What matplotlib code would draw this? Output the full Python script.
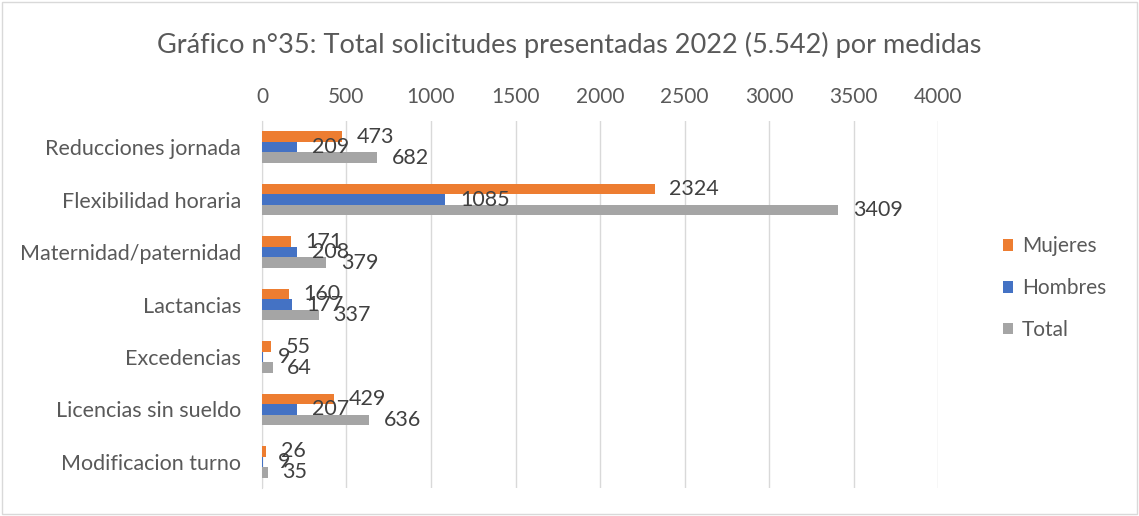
import matplotlib.pyplot as plt
import numpy as np

# datos
categorias = ['Reducciones jornada', 'Flexibilidad horaria', 'Maternidad/paternidad',
              'Lactancias', 'Excedencias', 'Licencias sin sueldo', 'Modificacion turno']
mujeres = [473, 2324, 171, 160, 55, 429, 26]
hombres = [209, 1085, 208, 177, 9, 207, 9]
total = [682, 3409, 379, 337, 64, 636, 35]
series = ['Mujeres', 'Hombres', 'Total']
colores = ['#ED7D31', '#4472C4', '#A5A5A5']
ticks_x = [0, 500, 1000, 1500, 2000, 2500, 3000, 3500, 4000]

plt.rcParams['font.family'] = ['Lato', 'DejaVu Sans']
gris_texto = '#595959'

fig = plt.figure(figsize=(11.39, 5.16), dpi=100)
ax = fig.add_axes([0.230, 0.054, 0.5936, 0.7115])

y = np.arange(len(categorias))
h = 0.2
for i, (valores, nombre, c) in enumerate(zip([mujeres, hombres, total], series, colores)):
    pos = y + (i - 1) * h
    ax.barh(pos, valores, height=h, color=c, label=nombre, zorder=3)
    for p, v in zip(pos, valores):
        ax.annotate(str(v), xy=(v, p), xytext=(10.5, 0), textcoords='offset points',
                    va='center', ha='left', fontsize=15.5, color='#404040', zorder=4)

ax.set_xlim(0, 4000)
ax.set_ylim(len(categorias) - 0.5, -0.5)
ax.set_yticks(y)
ax.set_yticklabels(categorias, fontsize=15.5, color=gris_texto)
ax.set_xticks(ticks_x)
ax.xaxis.tick_top()
ax.tick_params(axis='x', labelsize=15, labelcolor=gris_texto, length=0, pad=10)
ax.tick_params(axis='y', length=0, pad=15)
ax.grid(axis='x', color='#D9D9D9', linewidth=1, zorder=0)
for s in ['top', 'right', 'bottom']:
    ax.spines[s].set_visible(False)
ax.spines['left'].set_color('#D9D9D9')

fig.text(0.5, 0.913, 'Gráfico n°35: Total solicitudes presentadas 2022 (5.542) por medidas',
         ha='center', va='center', fontsize=19.5, color=gris_texto)

leg = ax.legend(loc='center left', bbox_to_anchor=(1.096, 0.545), frameon=False,
                fontsize=15, labelcolor=gris_texto, handlelength=0.5, handleheight=0.5,
                labelspacing=1.05, handletextpad=0.4, borderaxespad=0, borderpad=0)

# borde exterior
fig.patches.append(plt.Rectangle((0.002, 0.004), 0.996, 0.992, transform=fig.transFigure,
                                 fill=False, edgecolor='#D9D9D9', linewidth=1))

fig.savefig('out.png', dpi=100)
